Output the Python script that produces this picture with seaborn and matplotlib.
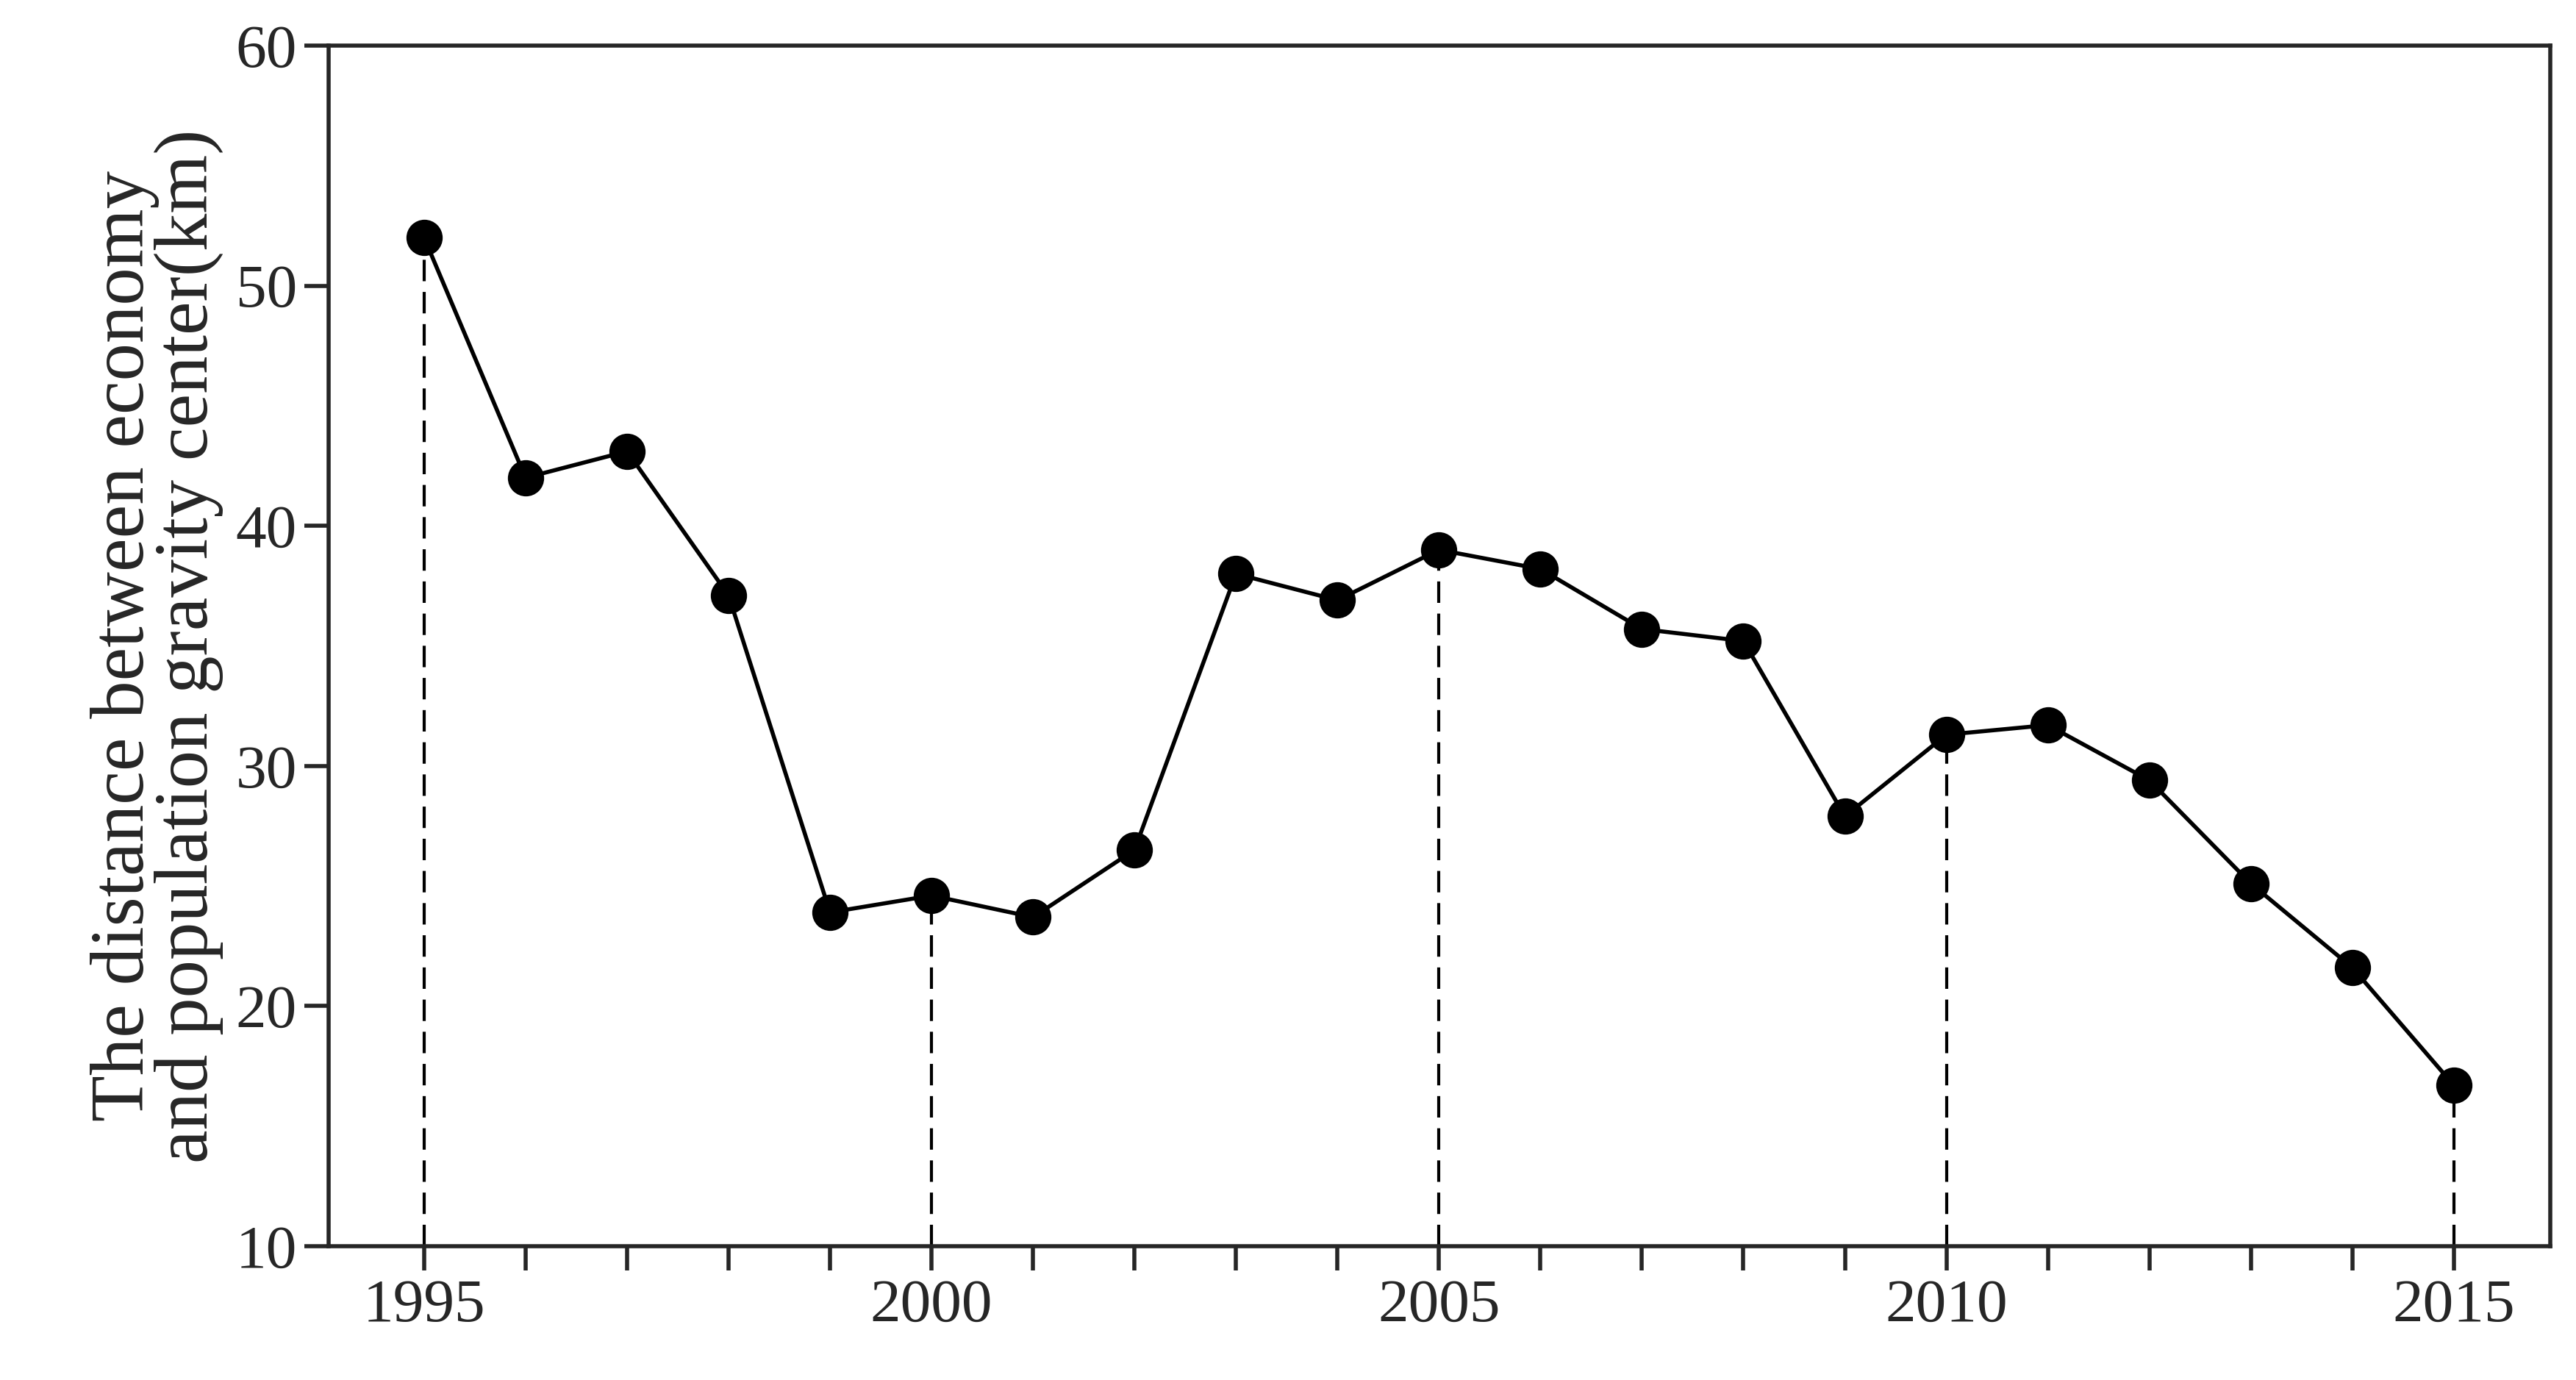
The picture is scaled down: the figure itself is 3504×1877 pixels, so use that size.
import seaborn as sns
import matplotlib.pyplot as plt
import pandas as pd

years = list(range(1995, 2016))
distance = [52.0, 42.0, 43.1, 37.1, 23.9, 24.6, 23.7, 26.5, 38.0, 36.9, 39.0,
            38.2, 35.7, 35.2, 27.9, 31.3, 31.7, 29.4, 25.1, 21.6, 16.7]
df = pd.DataFrame({'year': years, 'distance': distance})

sns.set_style('ticks')
plt.rcParams['font.family'] = ['Liberation Serif', 'DejaVu Serif']

fig, ax = plt.subplots(figsize=(17.52, 9.385), dpi=200)
fig.subplots_adjust(left=0.1276, right=0.990, top=0.967, bottom=0.097)

# dashed drop lines at every fifth year
for y, d in zip(years, distance):
    if y % 5 == 0:
        ax.plot([y, y], [10, d], color='black', linestyle=(0, (7, 3.5)), linewidth=1.5, zorder=1)

sns.lineplot(data=df, x='year', y='distance', ax=ax, color='black', linewidth=2,
             marker='o', markersize=17, markeredgecolor='black', markerfacecolor='black', zorder=3)

ax.set_xlim(1994.06, 2015.95)
ax.set_ylim(10, 60)
ax.set_xticks([1995, 2000, 2005, 2010, 2015])
ax.set_xticks(years, minor=True)
ax.set_yticks(range(10, 61, 10))
ax.tick_params(axis='both', which='both', direction='out', width=2, labelsize=30)
ax.tick_params(axis='both', which='major', length=12)
ax.tick_params(axis='x', which='minor', length=12)
ax.tick_params(axis='x', pad=4)
for s in ax.spines.values():
    s.set_linewidth(2)
    s.set_visible(True)
ax.set_xlabel('')
ax.set_ylabel('The distance between economy\nand population gravity center(km)', fontsize=37, linespacing=0.9, labelpad=6)

fig.savefig('out.png', dpi=200)
